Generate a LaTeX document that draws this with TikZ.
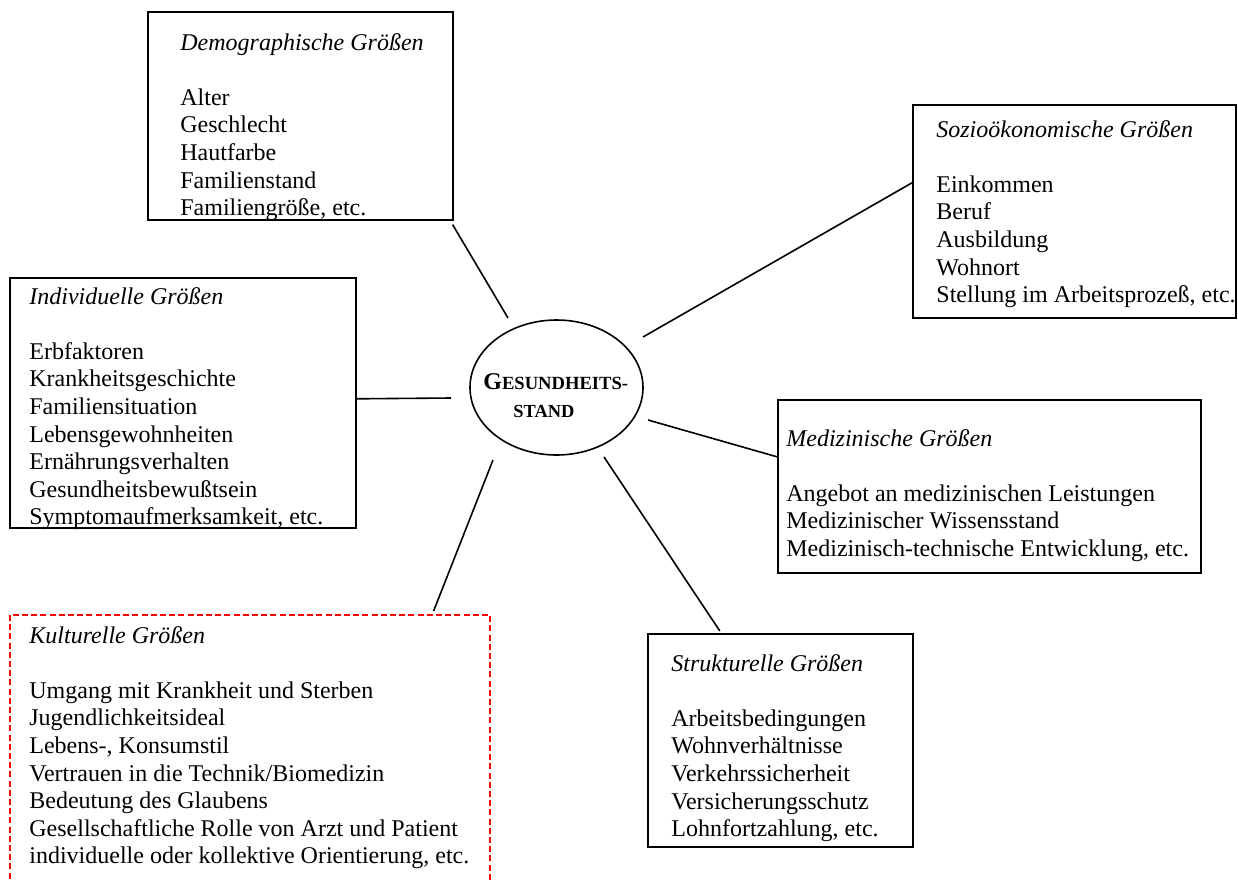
\documentclass[tikz,border=0pt]{standalone}
\usepackage{fontspec}
\setmainfont{Liberation Serif}
\usetikzlibrary{shapes.geometric}

% one unit = one dot of a 1238 x 879 canvas
\tikzset{
  x=0.5pt, y=-0.5pt,
  panel/.style={draw, rectangle, line width=0.8pt, inner sep=0pt, anchor=north west},
  dashpanel/.style={panel, draw=red, dash pattern=on 3pt off 1.6pt},
  txt/.style={anchor=base west, inner sep=0pt, font=\fontsize{12pt}{13.8pt}\selectfont},
  head/.style={txt, font=\fontsize{12pt}{13.8pt}\selectfont\itshape},
  link/.style={draw, line width=0.8pt},
  hub/.style={draw, ellipse, line width=0.8pt, inner sep=0pt,
              minimum width=86.5pt, minimum height=67.5pt},
}

% framed box given by its corners
\newcommand\panelbox[6][panel]{%
  \node[#1, minimum width={(#5-#3)*0.5pt}, minimum height={(#6-#4)*0.5pt}]
    (#2) at (#3,#4) {};}

% heading, blank line, then one line per entry
\newcommand\entrylist[5]{%
  \node[head] (#1-h) at (#2,#3) {#4};
  \foreach \t [count=\i from 0] in {#5}
    \node[txt] (#1-\i) at (#2,{#3+55.2+27.6*\i}) {\t};}

\begin{document}
\begin{tikzpicture}
\useasboundingbox (0,0) rectangle (1238,879);
\clip (0,0) rectangle (1238,879);

% frames
\panelbox{demo}{147}{11}{452}{219}
\panelbox{sozio}{912}{104}{1235}{317}
\panelbox{indiv}{9}{277}{355}{527}
\panelbox{medi}{777}{399}{1200}{572}
\panelbox{struk}{647}{633}{912}{846}
\panelbox[dashpanel]{kult}{9}{614}{489}{905}

% texts
\entrylist{demo}{180}{50}{Demographische Größen}
  {Alter, Geschlecht, Hautfarbe, Familienstand, {Familiengröße, etc.}}
\entrylist{sozio}{936}{137}{Sozioökonomische Größen}
  {Einkommen, Beruf, Ausbildung, Wohnort, {Stellung im Arbeitsprozeß, etc.}}
\entrylist{indiv}{29}{304}{Individuelle Größen}
  {Erbfaktoren, Krankheitsgeschichte, Familiensituation, Lebensgewohnheiten,
   Ernährungsverhalten, Gesundheitsbewußtsein, {Symptomaufmerksamkeit, etc.}}
\entrylist{medi}{786}{446}{Medizinische Größen}
  {Angebot an medizinischen Leistungen, Medizinischer Wissensstand,
   {Medizinisch-technische Entwicklung, etc.}}
\entrylist{struk}{671}{671}{Strukturelle Größen}
  {Arbeitsbedingungen, Wohnverhältnisse, Verkehrssicherheit,
   Versicherungsschutz, {Lohnfortzahlung, etc.}}
\entrylist{kult}{29}{643}{Kulturelle Größen}
  {Umgang mit Krankheit und Sterben, Jugendlichkeitsideal, {Lebens-, Konsumstil},
   Vertrauen in die Technik/Biomedizin, Bedeutung des Glaubens,
   Gesellschaftliche Rolle von Arzt und Patient,
   {individuelle oder kollektive Orientierung, etc.}}

% central ellipse
\node[hub] (gs) at (556.5,387.5) {};
\node[txt, font=\bfseries\fontsize{12pt}{13.8pt}\selectfont] (gs-1) at (483,389)
  {G{\fontsize{9.3pt}{11pt}\selectfont ESUNDHEITS-}};
\node[txt, font=\bfseries\fontsize{9.2pt}{11pt}\selectfont] (gs-2) at (513,417) {STAND};

% free ends near the ellipse
\coordinate (gs-demo)  at (508,318);
\coordinate (gs-sozio) at (643,337);
\coordinate (gs-indiv) at (451,398);
\coordinate (gs-medi)  at (648,420);
\coordinate (gs-struk) at (604,457);
\coordinate (gs-kult)  at (493,460);

% connectors
\draw[link] ([shift={(-1,4)}]demo.south east) -- (gs-demo);
\draw[link] (gs-sozio) -- ([shift={(0,-28.5)}]sozio.west);
\draw[link] ([shift={(0,-4)}]indiv.east) -- (gs-indiv);
\draw[link] (gs-medi) -- ([shift={(0,-29.5)}]medi.west);
\draw[link] (gs-struk) -- ([shift={(-60.5,-2)}]struk.north);
\draw[link] (gs-kult) -- ([shift={(-57,-3)}]kult.north east);
\end{tikzpicture}
\end{document}
